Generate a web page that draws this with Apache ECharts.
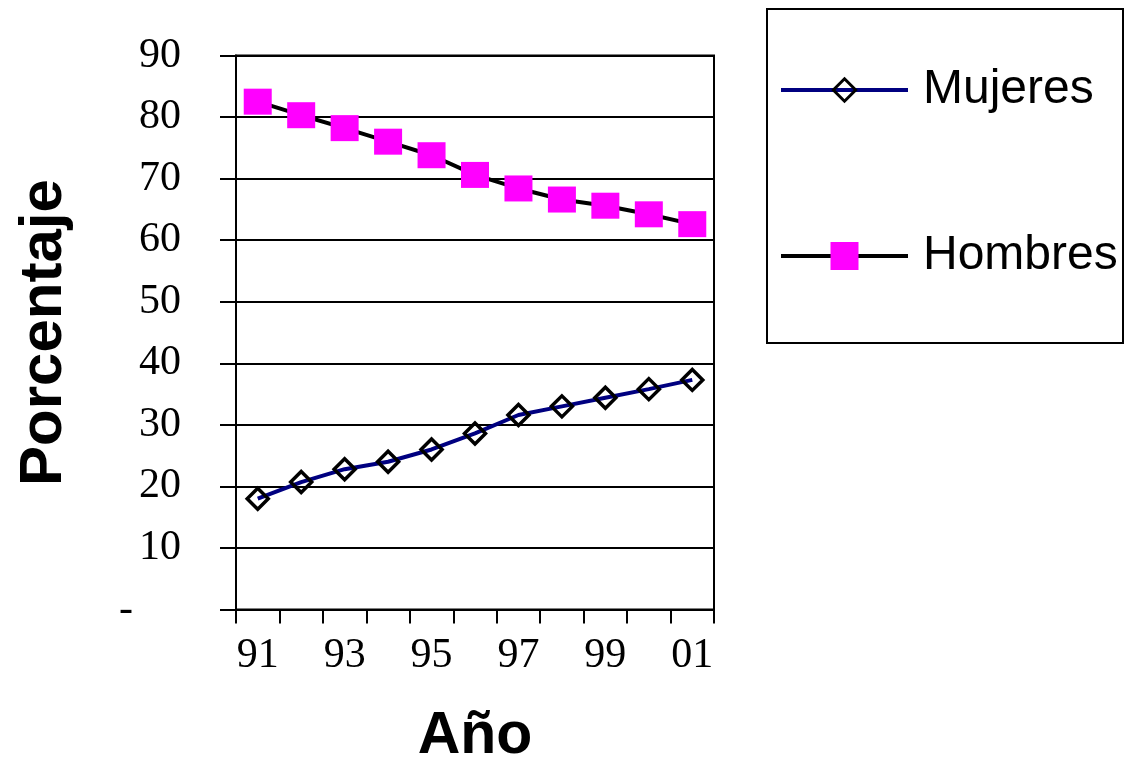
<!DOCTYPE html>
<html>
<head>
<meta charset="utf-8">
<script src="https://cdn.jsdelivr.net/npm/echarts@6/dist/echarts.min.js"></script>
<style>html,body{margin:0;padding:0;background:#fff}#c{width:1125px;height:759px}</style>
</head>
<body>
<div id="c"></div>
<script>
var years = ['91','92','93','94','95','96','97','98','99','00','01'];
var mujeres = [18.0, 20.7, 22.8, 24.0, 26.0, 28.6, 31.6, 33.0, 34.4, 35.8, 37.3];
var hombres = [82.5, 80.3, 78.2, 76.0, 73.8, 70.6, 68.4, 66.6, 65.6, 64.2, 62.6];
var yTicks = [0, 10, 20, 30, 40, 50, 60, 70, 80, 90];

var chart = echarts.init(document.getElementById('c'));
var serif = '"Liberation Serif","Times New Roman",serif';
var sans = '"Liberation Sans",Arial,sans-serif';
chart.setOption({
  animation: false,
  backgroundColor: '#fff',
  grid: {left: 236, right: 411, top: 55.5, bottom: 149.5, outerBoundsMode: 'none', containLabel: false,
         show: true, borderColor: '#000', borderWidth: 2, backgroundColor: 'transparent'},
  graphic: [{type: 'rect', left: 766, top: 8, shape: {width: 356, height: 334}, style: {fill: 'transparent', stroke: '#000', lineWidth: 2}}],
  legend: [
    {data: [{name: 'Mujeres', itemStyle: {color: 'transparent', borderColor: '#000', borderWidth: 3}, lineStyle: {color: '#000080', width: 4}}],
     left: 779, top: 66, padding: 0, itemWidth: 127, itemHeight: 28,
     textStyle: {fontFamily: sans, fontSize: 48, color: '#000', padding: [0, 0, 0, 10]}},
    {data: [{name: 'Hombres', itemStyle: {color: '#ff00ff', borderWidth: 0}, lineStyle: {color: '#000', width: 4}}],
     left: 779, top: 232, padding: 0, itemWidth: 127, itemHeight: 35,
     textStyle: {fontFamily: sans, fontSize: 48, color: '#000', padding: [0, 0, 0, 10]}}
  ],
  xAxis: {
    type: 'category', data: years, boundaryGap: true,
    name: 'Año', nameLocation: 'middle', nameGap: 98,
    nameTextStyle: {fontFamily: sans, fontSize: 59, fontWeight: 'bold', color: '#000'},
    axisLine: {lineStyle: {color: '#000', width: 2}},
    axisTick: {show: true, interval: 0, length: 14, lineStyle: {color: '#000', width: 2}},
    axisLabel: {interval: 1, margin: 25, fontFamily: serif, fontSize: 42, color: '#000'},
    splitLine: {show: false}
  },
  yAxis: {
    type: 'value', min: 0, max: 90, interval: 10,
    name: 'Porcentaje', nameLocation: 'middle', nameGap: 162, nameRotate: 90,
    nameTextStyle: {fontFamily: sans, fontSize: 60, fontWeight: 'bold', color: '#000'},
    axisLine: {show: true, lineStyle: {color: '#000', width: 2}},
    axisTick: {show: true, length: 16, lineStyle: {color: '#000', width: 2}},
    axisLabel: {
      margin: 55, fontFamily: serif, fontSize: 42, color: '#000',
      formatter: function (v) { return v === 0 ? '{z|-}' : String(v); },
      rich: {z: {fontFamily: serif, fontSize: 42, color: '#000', padding: [0, 48, 0, 0]}}
    },
    splitLine: {show: true, lineStyle: {color: '#000', width: 2}}
  },
  series: [
    {name: 'Mujeres', type: 'line', data: mujeres, symbol: 'diamond', symbolSize: 21,
     lineStyle: {color: '#000080', width: 4}, showAllSymbol: true,
     itemStyle: {color: 'transparent', borderColor: '#000', borderWidth: 3.5}},
    {name: 'Hombres', type: 'line', data: hombres, symbol: 'rect', symbolSize: [28, 26],
     lineStyle: {color: '#000', width: 4}, showAllSymbol: true,
     itemStyle: {color: '#ff00ff', borderWidth: 0}}
  ]
});
</script>
</body>
</html>
